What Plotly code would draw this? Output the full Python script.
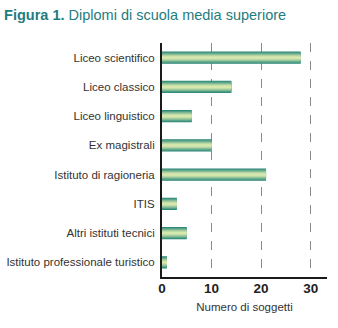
import plotly.graph_objects as go

categories = [
    "Liceo scientifico",
    "Liceo classico",
    "Liceo linguistico",
    "Ex magistrali",
    "Istituto di ragioneria",
    "ITIS",
    "Altri istituti tecnici",
    "Istituto professionale turistico",
]
counts = [28, 14, 6, 10, 21, 3, 5, 1]
tick_values = [0, 10, 20, 30]

# Layered bars (outer to inner) give each bar a shaded cylinder look
layers = [
    (0.42, "#2b8676"),
    (0.36, "#4f9e86"),
    (0.29, "#78b593"),
    (0.22, "#9fca9c"),
    (0.14, "#c2dca6"),
    (0.07, "#d6e8ae"),
]

fig = go.Figure()
for w, c in layers:
    fig.add_trace(go.Bar(
        x=counts,
        y=categories,
        orientation="h",
        width=w,
        marker=dict(color=c, line=dict(width=0)),
        hoverinfo="skip",
        showlegend=False,
    ))

fig.update_layout(
    width=338,
    height=328,
    margin=dict(l=162, r=11, t=43, b=51),
    paper_bgcolor="white",
    plot_bgcolor="white",
    barmode="overlay",
    font=dict(family="Liberation Sans, Arial, sans-serif", color="#2a2a2a"),
    title=dict(
        text="<b>Figura 1.</b> Diplomi di scuola media superiore",
        font=dict(size=14.5, color="#1f7c80", family="Liberation Sans, Arial, sans-serif"),
        x=0.012, xanchor="left",
        y=0.955, yanchor="middle",
    ),
    xaxis=dict(
        range=[0, 33.3],
        tickvals=tick_values,
        ticktext=[f"<b>{v}</b>" for v in tick_values],
        tickfont=dict(size=13.5, color="#222222"),
        ticklabelstandoff=-2,
        showgrid=True,
        gridcolor="#8a8a8a",
        griddash="dash",
        gridwidth=1,
        zeroline=False,
        showline=True,
        linecolor="#1a1a1a",
        linewidth=2,
        ticks="",
        title=dict(text="Numero di soggetti", font=dict(size=11.5, color="#333333"), standoff=8),
        automargin=False,
        fixedrange=True,
    ),
    yaxis=dict(
        autorange=False,
        range=[7.5, -0.5],
        categoryorder="array",
        categoryarray=categories,
        tickfont=dict(size=11.5, color="#333333"),
        showline=True,
        linecolor="#1a1a1a",
        linewidth=2,
        ticks="",
        ticklabelstandoff=3,
        showgrid=False,
        automargin=False,
        fixedrange=True,
    ),
)

fig.write_html("out.html", config={"displayModeBar": False})
